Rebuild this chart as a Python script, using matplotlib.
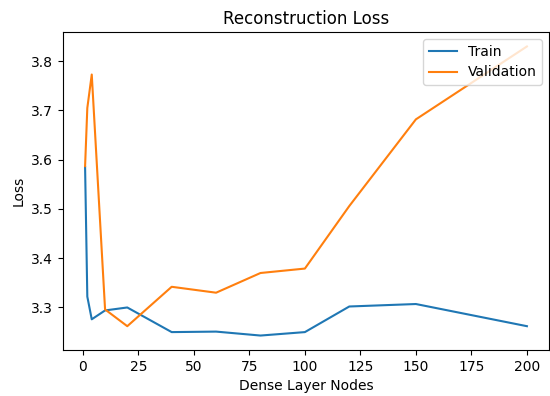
import matplotlib
matplotlib.use('Agg')
import matplotlib.pyplot as plt

nodes = [1, 2, 4, 10, 20, 40, 60, 80, 100, 120, 150, 200]
train_loss = [3.585, 3.322, 3.276, 3.294, 3.300, 3.250, 3.251, 3.243, 3.250, 3.302, 3.307, 3.262]
val_loss = [3.587, 3.705, 3.773, 3.296, 3.262, 3.342, 3.330, 3.370, 3.379, 3.506, 3.682, 3.830]

fig = plt.figure(figsize=(5.5, 3.96), dpi=100)
ax = fig.add_axes([63 / 550, 46 / 396, 486 / 550, 318 / 396])

ax.plot(nodes, train_loss, label='Train')
ax.plot(nodes, val_loss, label='Validation')
ax.set_title('Reconstruction Loss')
ax.set_xlabel('Dense Layer Nodes')
ax.set_ylabel('Loss')
ax.legend(loc='upper right')

fig.savefig('out.png', dpi=100)
